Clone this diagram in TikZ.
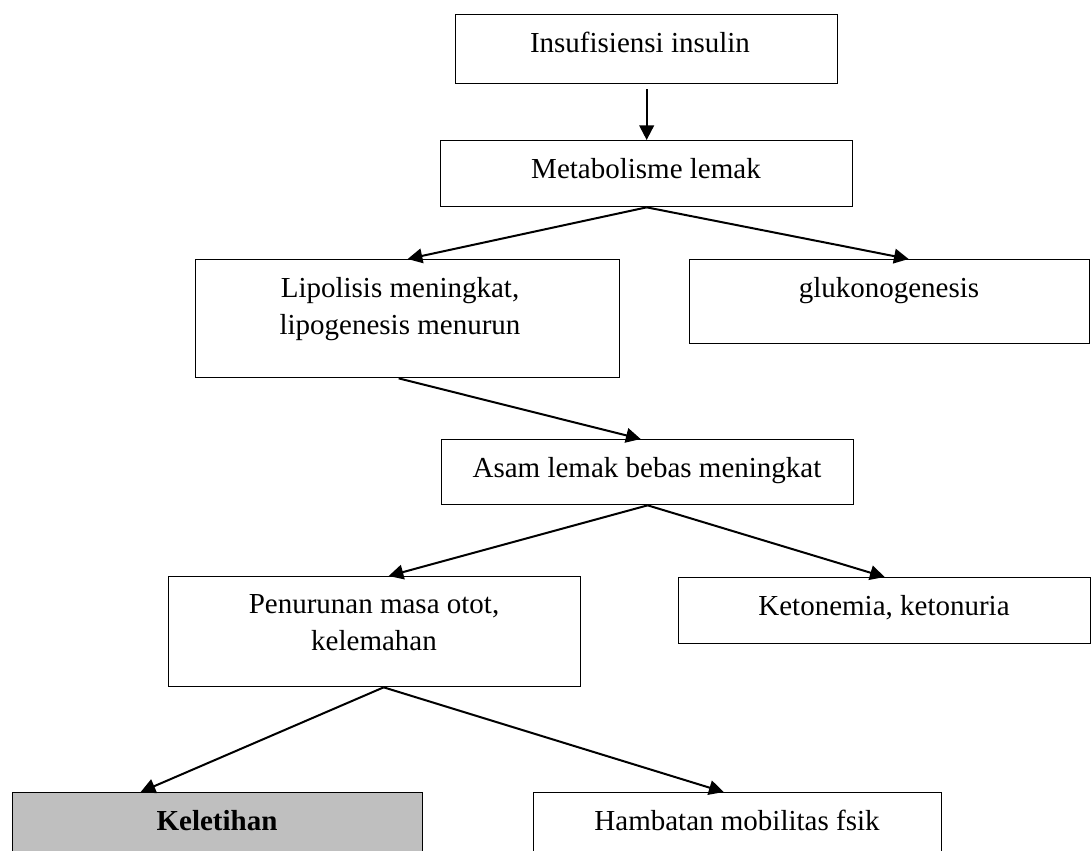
\documentclass[tikz,border=0pt]{standalone}
\usepackage{fontspec}
\setmainfont{Liberation Serif}
\usetikzlibrary{arrows.meta}
\definecolor{boxgray}{RGB}{191,191,191}
\tikzset{
  flowbox/.style={draw=black, line width=1pt, fill=white, inner sep=0pt, anchor=north west},
  flowtext/.style={inner sep=0pt, anchor=north, align=center, font=\fontsize{21.75pt}{27.75pt}\selectfont},
  flowarrow/.style={line width=1.5pt, -{Triangle[length=11pt,width=11pt]}}
}
\begin{document}
\begin{tikzpicture}[x=0.75pt,y=-0.75pt]
\useasboundingbox (0,0) rectangle (1092,850);
\clip (0,0) rectangle (1092,850);
\fill[white] (0,0) rectangle (1092,850);
% boxes
\node[flowbox, minimum width=286.5pt, minimum height=51.75pt] (b1) at (455,14) {};
\node[flowbox, minimum width=309pt, minimum height=49.5pt] (b2) at (440,140) {};
\node[flowbox, minimum width=318pt, minimum height=88.5pt] (b3) at (195,259) {};
\node[flowbox, minimum width=300pt, minimum height=63pt] (b4) at (689,259) {};
\node[flowbox, minimum width=309pt, minimum height=48.75pt] (b5) at (441,439) {};
\node[flowbox, minimum width=309pt, minimum height=82.5pt] (b6) at (168,576) {};
\node[flowbox, minimum width=309pt, minimum height=49.5pt] (b7) at (678,577) {};
\node[flowbox, fill=boxgray, minimum width=307.5pt, minimum height=58.5pt] (b8) at (12,792) {};
\node[flowbox, minimum width=306pt, minimum height=58.5pt] (b9) at (533,792) {};
% texts
\node[flowtext] (t1) at (640,32) {Insufisiensi insulin};
\node[flowtext] (t2) at (646,158) {Metabolisme lemak};
\node[flowtext] (t3) at (400,277) {Lipolisis meningkat,\\lipogenesis menurun};
\node[flowtext] (t4) at (889,277) {glukonogenesis};
\node[flowtext] (t5) at (647,457) {Asam lemak bebas meningkat};
\node[flowtext] (t6) at (374,594) {Penurunan masa otot,\\kelemahan};
\node[flowtext] (t7) at (884,595) {Ketonemia, ketonuria};
\node[flowtext, font=\fontsize{21.75pt}{27.75pt}\selectfont\bfseries] (t8) at (217,810) {Keletihan};
\node[flowtext] (t9) at (737,810) {Hambatan mobilitas fsik};
% arrows
\draw[flowarrow, shorten <=3.75pt] (b1.south) -- (b2.north);
\draw[flowarrow] (b2.south) -- (b3.north);
\draw[flowarrow] (b2.south) -- ([xshift=14.25pt]b4.north);
\draw[flowarrow] ([xshift=-6.75pt]b3.south) -- ([xshift=-5.25pt]b5.north);
\draw[flowarrow] (b5.south) -- ([xshift=10.5pt]b6.north);
\draw[flowarrow] (b5.south) -- (b7.north);
\draw[flowarrow] ([xshift=6.75pt]b6.south) -- ([xshift=-57.75pt]b8.north);
\draw[flowarrow] ([xshift=6.75pt]b6.south) -- ([xshift=-10.5pt]b9.north);
\end{tikzpicture}
\end{document}
